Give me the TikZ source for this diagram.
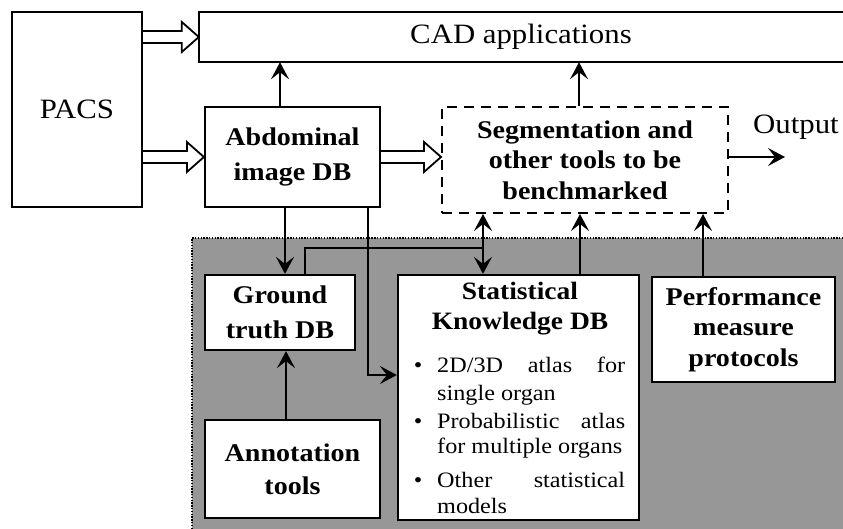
\documentclass[tikz,border=0pt]{standalone}
\usepackage{fontspec}
\setmainfont{Liberation Serif}[FakeStretch=1.1]
\usetikzlibrary{arrows.meta,calc}
\definecolor{panelgray}{RGB}{151,151,151}
\newcommand\hollowarr[2]{%
  \draw[hollow] ($(#1)+(0,6)$) -- ($(#2)+(-17,6)$) -- ($(#2)+(-17,15)$) -- (#2)
     -- ($(#2)+(-17,-15)$) -- ($(#2)+(-17,-6)$) -- ($(#1)+(0,-6)$);}
\begin{document}
\begin{tikzpicture}[x=1pt,y=-1pt,
  box/.style={draw, line width=2.2pt, fill=white, inner sep=0pt},
  boldtxt/.style={font=\fontsize{25.5}{31}\selectfont\bfseries, align=center},
  regtxt/.style={font=\fontsize{28}{32}\selectfont},
  smalltxt/.style={font=\fontsize{22}{26}\selectfont, inner sep=0pt, anchor=base west},
  bul/.style={font=\fontsize{22}{26}\selectfont, inner sep=0pt, anchor=base},
  tip/.tip={Stealth[length=17pt,width=18pt,inset=7pt]},
  arr/.style={line width=2pt, -tip},
  darr/.style={line width=2pt, tip-tip},
  plain/.style={line width=2pt},
  hollow/.style={line width=1.8pt, fill=white, line join=miter},
  dashbox/.style={draw, line width=2pt, dash pattern=on 10pt off 7pt, fill=white, inner sep=0pt},
  dotline/.style={line width=1.6pt, dash pattern=on 1.4pt off 1.4pt}
]
\useasboundingbox (0,0) rectangle (843,529);
\fill[white] (0,0) rectangle (843,529);
% shaded panel
\fill[panelgray] (192,238) rectangle (843,529);
\draw[dotline] (192,529) -- (192,238) -- (843,238);

% top boxes
\node[box, minimum width=130pt, minimum height=195pt, regtxt] (pacs) at (77,109.5) {PACS};
\node[minimum width=644pt, minimum height=50pt, inner sep=0pt, regtxt] (cad) at (521,37) {CAD applications};
\draw[line width=2.2pt] (846,12) -- (199,12) -- (199,62) -- (846,62);
\node[box, minimum width=175pt, minimum height=100pt, boldtxt, font=\fontsize{25.5}{35}\selectfont\bfseries] (abd) at (292.5,157) {Abdominal\\image DB};
\node[dashbox, minimum width=286pt, minimum height=106pt, boldtxt, font=\fontsize{25.5}{30.5}\selectfont\bfseries] (seg) at (585,160) {Segmentation and\\other tools to be\\benchmarked};
\node[regtxt, inner sep=0pt] (out) at (796,127) {Output};
\coordinate (outend) at (785,157);

% lower boxes
\node[box, minimum width=150pt, minimum height=75pt, boldtxt, font=\fontsize{25.5}{35}\selectfont\bfseries] (gt) at (280,312.5) {Ground\\truth DB};
\node[box, minimum width=175pt, minimum height=98pt, boldtxt, font=\fontsize{25.5}{33}\selectfont\bfseries] (ann) at (292.5,469) {Annotation\\tools};
\node[box, minimum width=183pt, minimum height=105pt, boldtxt, font=\fontsize{25.5}{30.5}\selectfont\bfseries] (perf) at (743.5,329.5) {Performance\\measure\\protocols};
\node[box, minimum width=241pt, minimum height=245pt] (stat) at (518.5,397.5) {};
\node[boldtxt, font=\fontsize{25}{30}\selectfont\bfseries, inner sep=0pt, anchor=north] (stattitle) at (520,282) {Statistical\\Knowledge DB};

% bullet list
\node[bul] (b1) at (418,372) {\textbullet};
\node[smalltxt] (l1) at (437,372) {\makebox[188pt][s]{2D/3D atlas for}};
\node[smalltxt] (l2) at (437,400) {single organ};
\node[bul] (b2) at (418,428) {\textbullet};
\node[smalltxt] (l3) at (437,428) {\makebox[188pt][s]{Probabilistic atlas}};
\node[smalltxt] (l4) at (437,453) {for multiple organs};
\node[bul] (b3) at (418,487) {\textbullet};
\node[smalltxt] (l5) at (437,487) {\makebox[188pt][s]{Other statistical}};
\node[smalltxt] (l6) at (437,513) {models};

% hollow arrows
\hollowarr{pacs.east |- cad.west}{cad.west}
\hollowarr{pacs.east |- abd.west}{abd.west}
\hollowarr{abd.east}{abd.east -| seg.west}

% arrows
\draw[arr] ([xshift=-12.5pt]abd.north) -- ([xshift=-12.5pt]abd.north |- cad.south);
\draw[arr] ([xshift=-6pt]seg.north) -- ([xshift=-6pt]seg.north |- cad.south);
\draw[arr] (seg.east |- outend) -- (outend);
\draw[arr] ([xshift=-7.5pt]abd.south) -- ([xshift=-7.5pt]abd.south |- gt.north);
\draw[arr] ([xshift=75.5pt]abd.south) |- ([yshift=22.5pt]stat.west);
\draw[arr] ([xshift=-6.5pt]ann.north) -- ([xshift=-6.5pt]ann.north |- gt.south);
\draw[darr] ([xshift=-35.5pt]stat.north) -- ([xshift=-35.5pt]stat.north |- seg.south);
\draw[plain] ([xshift=25pt]gt.north) |- ([xshift=-35.5pt,yshift=26pt]stat.north);
\draw[arr] ([xshift=61.5pt]stat.north) -- ([xshift=61.5pt]stat.north |- seg.south);
\draw[arr] ([xshift=-40.5pt]perf.north) -- ([xshift=-40.5pt]perf.north |- seg.south);
\end{tikzpicture}
\end{document}
